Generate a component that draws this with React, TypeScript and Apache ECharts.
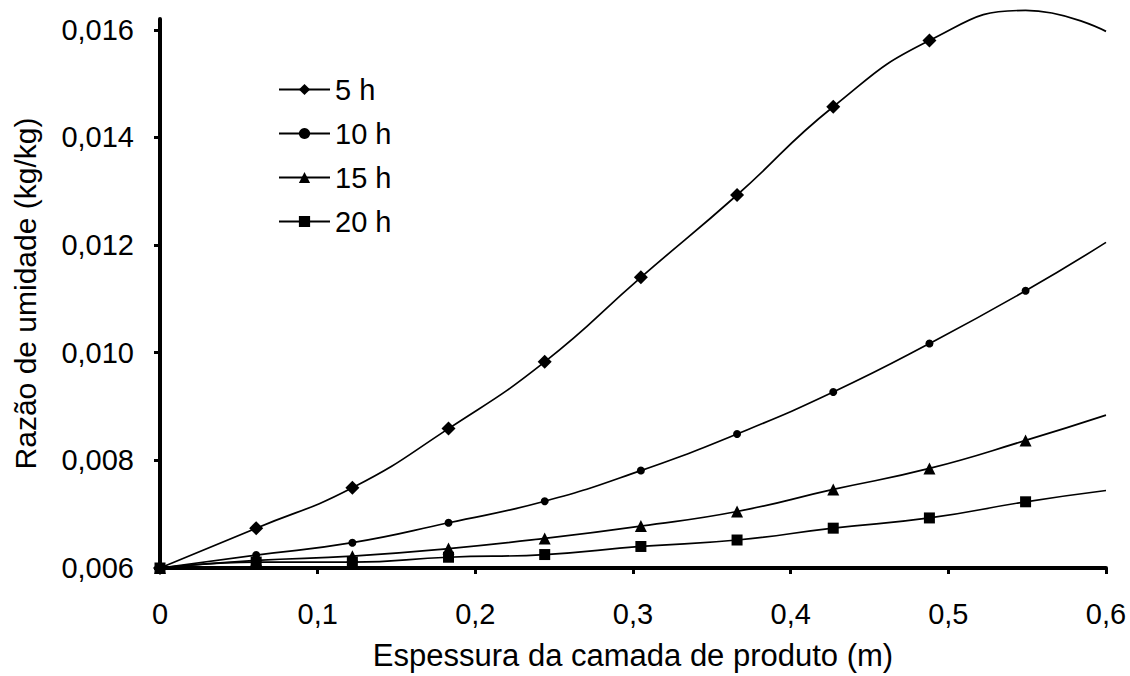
import React, { useEffect, useRef } from "react";
import * as echarts from "echarts";

const depths = [0, 0.061, 0.122, 0.183, 0.244, 0.305, 0.366, 0.427, 0.488, 0.549, 0.6];
const h5 = [0.006, 0.00674, 0.00749, 0.00859, 0.00983, 0.0114, 0.01293, 0.01457, 0.0158, 0.01636, 0.01597];
const h10 = [0.006, 0.00624, 0.00647, 0.00684, 0.00724, 0.00781, 0.00849, 0.00927, 0.01017, 0.01115, 0.01205];
const h15 = [0.006, 0.00614, 0.00622, 0.00636, 0.00655, 0.00678, 0.00705, 0.00746, 0.00785, 0.00837, 0.00884];
const h20 = [0.006, 0.00611, 0.00611, 0.0062, 0.00625, 0.0064, 0.00652, 0.00674, 0.00693, 0.00723, 0.00744];
const seriesNames = ["5 h", "10 h", "15 h", "20 h"];
const yTicks = [0.006, 0.008, 0.01, 0.012, 0.014, 0.016];
const xTicks = [0, 0.1, 0.2, 0.3, 0.4, 0.5, 0.6];

const FONT = "'Liberation Sans', Arial, sans-serif";

function build(values: number[], markerCount: number) {
  return values.map((v, i) =>
    i < markerCount ? [depths[i], v] : { value: [depths[i], v], symbol: "none" }
  );
}

export default function App() {
  const ref = useRef<HTMLDivElement>(null);
  useEffect(() => {
    if (!ref.current) return;
    const chart = echarts.init(ref.current, null, { renderer: "svg" });
    const mk = (name: string, vals: number[], count: number, symbol: string, size: number, clip: boolean) => ({
      name,
      type: "line",
      data: build(vals, count),
      smooth: true,
      symbol,
      symbolSize: size,
      showSymbol: true,
      clip,
      lineStyle: { color: "#000", width: 1.7 },
      itemStyle: { color: "#000" },
      emphasis: { disabled: true },
    });
    chart.setOption({
      animation: false,
      backgroundColor: "#fff",
      textStyle: { fontFamily: FONT },
      grid: { left: 160, top: 19, width: 946, height: 551, containLabel: false },
      legend: {
        orient: "vertical",
        left: 278,
        top: 75,
        padding: 0,
        itemWidth: 51,
        itemHeight: 14,
        itemGap: 15,
        data: seriesNames,
        textStyle: { fontFamily: FONT, fontSize: 29, color: "#000" },
      },
      xAxis: {
        type: "value",
        min: 0,
        max: 0.6,
        name: "Espessura da camada de produto (m)",
        nameLocation: "middle",
        nameGap: 72,
        nameTextStyle: { fontFamily: FONT, fontSize: 31, color: "#000" },
        axisLine: { lineStyle: { color: "#000", width: 4 } },
        axisTick: { show: true, length: 6, lineStyle: { color: "#000", width: 3 }, customValues: xTicks },
        axisLabel: {
          customValues: xTicks,
          margin: 31,
          fontFamily: FONT,
          fontSize: 29,
          color: "#000",
          formatter: (v: number) => (v === 0 ? "0" : v.toFixed(1).replace(".", ",")),
        },
        splitLine: { show: false },
      },
      yAxis: {
        type: "value",
        min: 0.006,
        max: 0.0162,
        name: "Razão de umidade (kg/kg)",
        nameLocation: "middle",
        nameGap: 120,
        nameTextStyle: { fontFamily: FONT, fontSize: 30, color: "#000" },
        axisLine: { show: true, lineStyle: { color: "#000", width: 4 } },
        axisTick: { show: true, length: 6, lineStyle: { color: "#000", width: 3 }, customValues: yTicks },
        axisLabel: {
          customValues: yTicks,
          margin: 26,
          fontFamily: FONT,
          fontSize: 29,
          color: "#000",
          formatter: (v: number) => v.toFixed(3).replace(".", ","),
        },
        splitLine: { show: false },
      },
      series: [
        mk(seriesNames[0], h5, 9, "diamond", 14, false),
        mk(seriesNames[1], h10, 10, "circle", 8, true),
        mk(seriesNames[2], h15, 10, "triangle", 12, true),
        mk(seriesNames[3], h20, 10, "rect", 11, true),
      ],
    });
    return () => chart.dispose();
  }, []);
  return (
    <div
      ref={ref}
      style={{ position: "fixed", left: 0, top: 0, width: 1130, height: 676, background: "#fff" }}
    />
  );
}
